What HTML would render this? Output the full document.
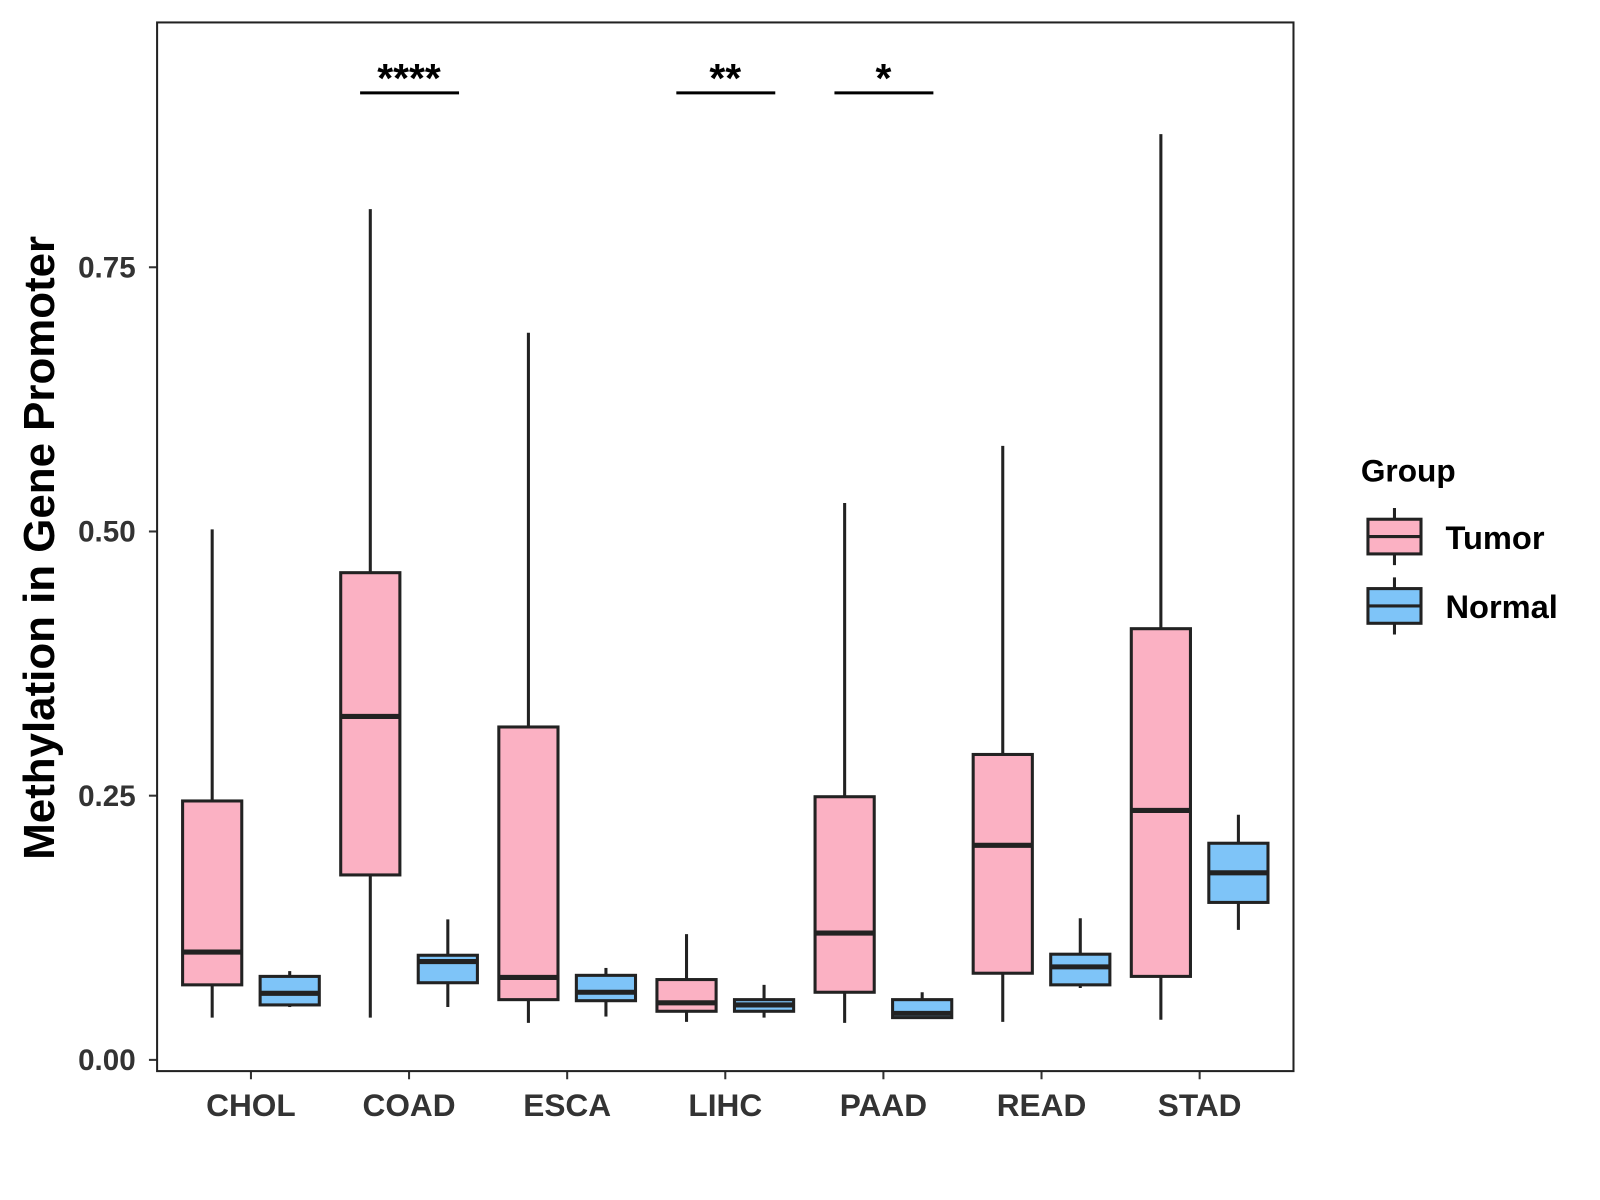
<!DOCTYPE html>
<html><head><meta charset="utf-8"><style>
body{margin:0;background:#fff}
svg{display:block;font-family:"Liberation Sans",Arial,sans-serif}
</style></head><body>
<svg id="chart" width="1600" height="1200" viewBox="0 0 1600 1200">
<rect x="0" y="0" width="1600" height="1200" fill="#fff"/>
<g transform="scale(1.0201)">
<g id="marks"></g>
<rect x="154" y="22" width="1114" height="1028" fill="none" stroke="#222" stroke-width="2"/>
<text transform="translate(53,537) rotate(-90)" text-anchor="middle" font-size="43" font-weight="bold" fill="#000">Methylation in Gene Promoter</text>
<g>
<text x="1334" y="472" font-size="31" font-weight="bold">Group</text>
<line x1="1367" y1="498" x2="1367" y2="554" stroke="#222" stroke-width="3"/>
<rect x="1341" y="509" width="52" height="34" fill="#FBB1C3" stroke="#222" stroke-width="3"/>
<line x1="1341" y1="526" x2="1393" y2="526" stroke="#222" stroke-width="3"/>
<text x="1417" y="538" font-size="32" font-weight="bold">Tumor</text>
<line x1="1367" y1="566" x2="1367" y2="622" stroke="#222" stroke-width="3"/>
<rect x="1341" y="577" width="52" height="34" fill="#7EC4F8" stroke="#222" stroke-width="3"/>
<line x1="1341" y1="594" x2="1393" y2="594" stroke="#222" stroke-width="3"/>
<text x="1417" y="606" font-size="32" font-weight="bold">Normal</text>
</g>
</g>
</svg>
<script>
const categories=["CHOL","COAD","ESCA","LIHC","PAAD","READ","STAD"];
// [low, q1, median, q3, high]
const tumorStats=[[0.040,0.071,0.102,0.245,0.502],[0.040,0.175,0.325,0.461,0.805],[0.035,0.057,0.078,0.315,0.688],[0.036,0.046,0.054,0.076,0.119],[0.035,0.064,0.120,0.249,0.527],[0.036,0.082,0.203,0.289,0.581],[0.038,0.079,0.236,0.408,0.876]];
const normalStats=[[0.050,0.052,0.063,0.079,0.084],[0.050,0.073,0.093,0.099,0.133],[0.041,0.056,0.064,0.080,0.087],[0.040,0.046,0.052,0.057,0.071],[0.040,0.040,0.044,0.057,0.064],[0.068,0.071,0.088,0.100,0.134],[0.123,0.149,0.177,0.205,0.232]];
const yTicks=[0,0.25,0.5,0.75];
const yTickLabels=["0.00","0.25","0.50","0.75"];
const sigCategories=["COAD","LIHC","PAAD"];
const sigLabels=["****","**","*"];
const sigLevel=0.915;

const NS="http://www.w3.org/2000/svg";
const y=v=>1039-v*1036;
const x=c=>246+categories.indexOf(c)*155;
const svg=document.getElementById('marks');
function mk(tag,attrs){const e=document.createElementNS(NS,tag);for(const k in attrs)e.setAttribute(k,attrs[k]);svg.appendChild(e);return e;}
yTicks.forEach((t,i)=>{
 const l=mk('line',{x1:146,x2:154,y1:y(t),y2:y(t),stroke:'#333','stroke-width':2});
 
 
 const tx=mk('text',{x:133,y:y(t)+10,'text-anchor':'end','font-size':29,'font-weight':'bold',fill:'#333'});
 tx.textContent=yTickLabels[i];
 
 
});
categories.forEach((c,i)=>{
 const l=mk('line',{x1:x(c),x2:x(c),y1:1050,y2:1058,stroke:'#333','stroke-width':2});
 
 
 const tx=mk('text',{x:x(c),y:1094,'text-anchor':'middle','font-size':31,'font-weight':'bold',fill:'#333'});
 tx.textContent=c;
 
 
 [[tumorStats[i],-38,'#FBB1C3','tumor'],[normalStats[i],38,'#7EC4F8','normal']].forEach(([s,off,fill,nm])=>{
  const cx=x(c)+off,w=58;
  const g=document.createElementNS(NS,'g');svg.appendChild(g);
  
  
  const add=(tag,a)=>{const e=document.createElementNS(NS,tag);for(const k in a)e.setAttribute(k,a[k]);g.appendChild(e);return e;};
  add('line',{x1:cx,x2:cx,y1:y(s[0]),y2:y(s[4]),stroke:'#222','stroke-width':3});
  add('rect',{x:cx-w/2,y:y(s[3]),width:w,height:Math.max(y(s[1])-y(s[3]),1),fill:fill,stroke:'#222','stroke-width':3});
  add('line',{x1:cx-w/2,x2:cx+w/2,y1:y(s[2]),y2:y(s[2]),stroke:'#222','stroke-width':5});
 });
});
sigCategories.forEach((c,i)=>{
 const l=mk('line',{x1:x(c)-48,x2:x(c)+49,y1:y(sigLevel),y2:y(sigLevel),stroke:'#000','stroke-width':3});
 
 
 const t=mk('text',{x:x(c),y:y(sigLevel)-1,'text-anchor':'middle','font-size':40,'font-weight':'bold'});
 t.textContent=sigLabels[i];
 
 
});
</script>
</body></html>
